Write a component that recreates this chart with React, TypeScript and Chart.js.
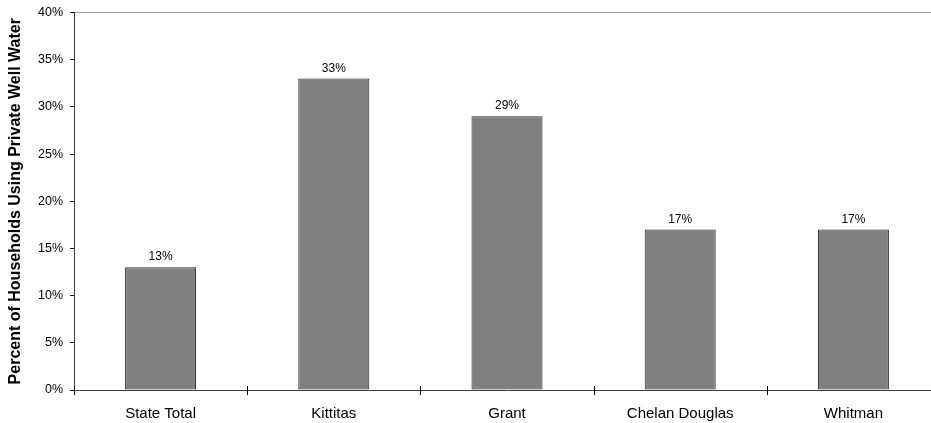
import React, { useEffect, useRef } from "react";
import { Chart, registerables } from "chart.js";

Chart.register(...registerables);

const categories = ["State Total", "Kittitas", "Grant", "Chelan Douglas", "Whitman"];
const values = [13, 33, 29, 17, 17];
const valueLabels = ["13%", "33%", "29%", "17%", "17%"];
const yTicks = [0, 5, 10, 15, 20, 25, 30, 35, 40];
const yTitle = "Percent of Households Using Private Well Water";

const FONT = "'Liberation Sans', Arial, sans-serif";

const labelPlugin = {
  id: "valueLabels",
  afterDatasetsDraw(chart: any) {
    const ctx = chart.ctx;
    const meta = chart.getDatasetMeta(0);
    ctx.save();
    ctx.font = `12px ${FONT}`;
    ctx.fillStyle = "#000";
    ctx.textAlign = "center";
    ctx.textBaseline = "alphabetic";
    meta.data.forEach((bar: any, i: number) => {
      ctx.fillText(valueLabels[i], bar.x, bar.y - 7);
    });
    ctx.restore();
  },
};

const crossTicksPlugin = {
  id: "crossTicks",
  afterDraw(chart: any) {
    const ctx = chart.ctx;
    const xs = chart.scales.x;
    const y0 = chart.chartArea.bottom;
    const half = (xs.getPixelForValue(1) - xs.getPixelForValue(0)) / 2;
    ctx.save();
    ctx.strokeStyle = "#000";
    ctx.lineWidth = 1;
    for (let i = 0; i <= categories.length; i++) {
      const x = Math.round(xs.getPixelForValue(i) - half) + 0.5;
      ctx.beginPath();
      ctx.moveTo(x, y0 - 4);
      ctx.lineTo(x, y0 + 5);
      ctx.stroke();
    }
    ctx.restore();
  },
};

export default function App() {
  const ref = useRef<HTMLCanvasElement>(null);
  useEffect(() => {
    if (!ref.current) return;
    const chart = new Chart(ref.current, {
      type: "bar",
      data: {
        labels: categories,
        datasets: [
          {
            data: values,
            backgroundColor: "#808080",
            borderColor: "#222",
            borderWidth: 1,
            borderSkipped: false,
            barPercentage: 0.41,
            categoryPercentage: 1,
          },
        ],
      },
      options: {
        responsive: false,
        animation: false,
        layout: { padding: { top: 6, left: 0, right: 0, bottom: 0 } },
        plugins: { legend: { display: false }, tooltip: { enabled: false } },
        scales: {
          x: {
            offset: true,
            grid: {
              offset: true,
              color: "transparent",
              tickColor: "transparent",
              tickLength: 0,
              drawOnChartArea: false,
            },
            border: { color: "#404040", width: 1 },
            ticks: {
              color: "#000",
              font: { family: FONT, size: 15 },
              padding: 15,
            },
            afterFit(scale: any) {
              scale.height = 33;
            },
          },
          y: {
            min: 0,
            max: 40,
            afterBuildTicks(scale: any) {
              scale.ticks = yTicks.map((v) => ({ value: v }));
            },
            grid: {
              color: (c: any) => (c.tick && c.tick.value === 40 ? "#a0a0a0" : "transparent"),
              tickColor: "#000",
              tickLength: 4,
              lineWidth: 1,
            },
            border: { color: "#404040", width: 1 },
            ticks: {
              color: "#000",
              font: { family: FONT, size: 12.5 },
              padding: 7,
              callback: (v: any) => v + "%",
            },
            title: {
              display: true,
              text: yTitle,
              color: "#000",
              font: { family: FONT, size: 16, weight: "bold" },
              padding: { top: 6, bottom: 4 },
            },
            afterFit(scale: any) {
              scale.width = 74;
            },
          },
        },
      },
      plugins: [labelPlugin, crossTicksPlugin],
    });
    return () => chart.destroy();
  }, []);
  return (
    <div style={{ position: "fixed", left: 0, top: 0, width: 931, height: 423, overflow: "hidden", background: "#fff" }}>
      <canvas ref={ref} width={940} height={425} style={{ display: "block", marginTop: -2 }} />
    </div>
  );
}
